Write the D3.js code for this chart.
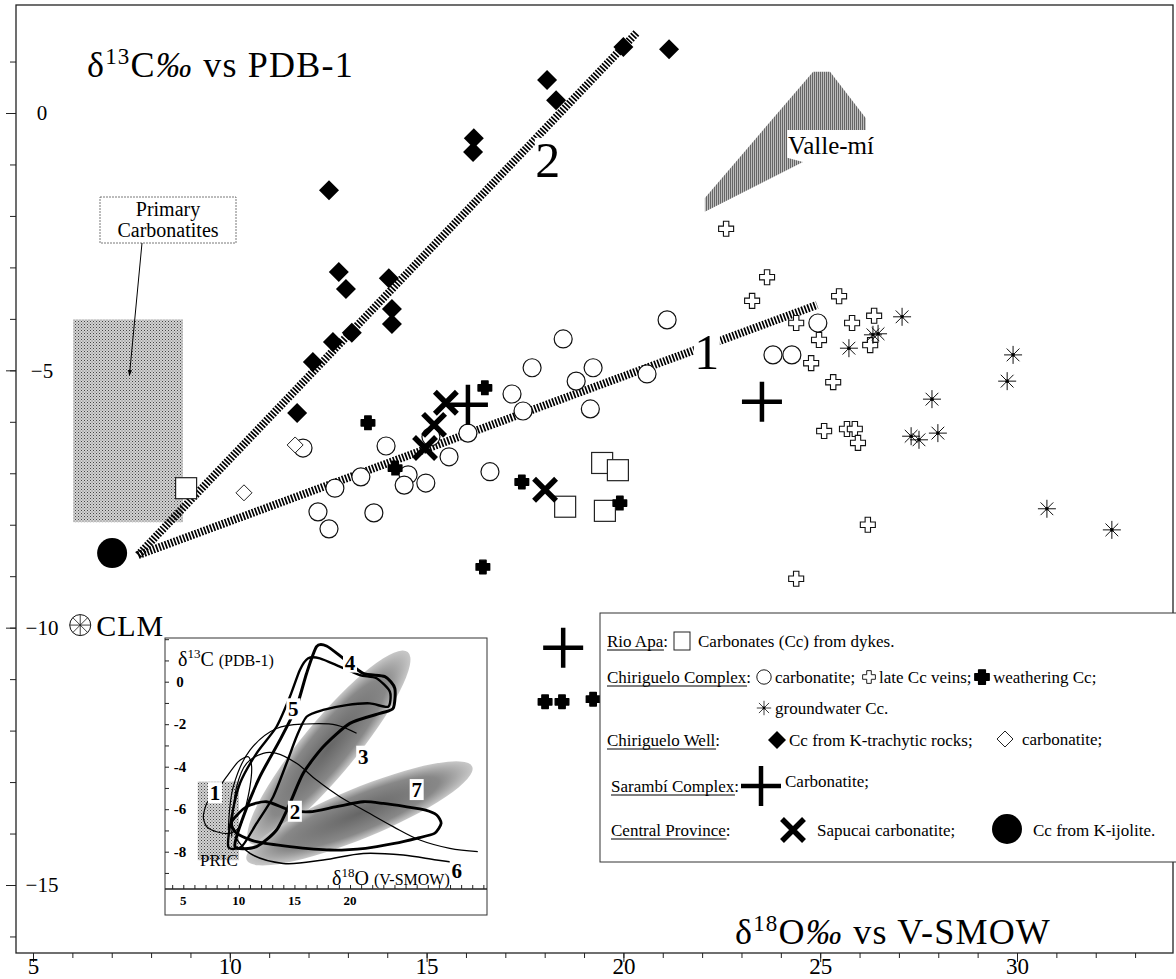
<!DOCTYPE html>
<html>
<head>
<meta charset="utf-8">
<script src="https://cdn.jsdelivr.net/npm/d3@7"></script>
<style>
  body { margin: 0; background: #fff; }
  svg { display: block; }
  text { font-family: "Liberation Serif", "Times New Roman", serif; fill: #000; }
</style>
</head>
<body>
<svg id="chart" width="1176" height="979"></svg>
<script>
// ---- data: [d18O V-SMOW, d13C PDB] ----
const trachyticCc = [[20.0,1.28],[21.16,1.24],[18.06,0.64],[18.29,0.25],[16.2,-0.49],[16.18,-0.76],
  [12.52,-1.5],[12.77,-3.09],[12.95,-3.42],[14.04,-3.21],[14.12,-3.81],[14.12,-4.1],[13.1,-4.27],
  [12.62,-4.45],[12.11,-4.84],[11.71,-5.83]];
const wellCarbonatite = [[11.66,-6.45],[10.36,-7.38]];
const rioApa = [[8.89,-7.29],[19.46,-6.8],[19.86,-6.94],[18.52,-7.65],[19.53,-7.73]];
const chiriCarbonatite = [[11.86,-6.51],[13.97,-6.47],[15.11,-6.29],[16.05,-6.22],[15.57,-6.68],
  [14.53,-7.03],[14.43,-7.23],[14.98,-7.19],[13.33,-7.07],[12.67,-7.29],[12.24,-7.75],[12.52,-8.08],
  [13.66,-7.77],[16.61,-6.97],[17.17,-5.46],[17.45,-5.79],[17.68,-4.95],[18.47,-4.39],[19.23,-4.95],
  [18.8,-5.21],[19.16,-5.75],[20.6,-5.07],[21.11,-4.02],[24.94,-4.08],[23.8,-4.7],[24.28,-4.7]];
const lateVeins = [[22.61,-2.25],[23.65,-3.19],[23.27,-3.65],[25.48,-3.56],[24.39,-4.08],[25.81,-4.08],
  [26.37,-3.94],[24.97,-4.41],[26.27,-4.51],[24.77,-4.86],[25.33,-5.23],[25.1,-6.18],[25.68,-6.14],
  [25.88,-6.14],[25.96,-6.41],[26.21,-8.0],[24.39,-9.05]];
const weathering = [[13.51,-6.02],[14.2,-6.9],[16.48,-5.34],[16.43,-8.82],[17.42,-7.17],[19.91,-7.58],
  [18.01,-11.44],[18.44,-11.44],[19.23,-11.39]];
const groundwater = [[27.08,-3.96],[25.73,-4.57],[26.34,-4.31],[26.47,-4.29],[29.9,-4.7],[29.75,-5.21],
  [27.84,-5.56],[27.31,-6.28],[27.51,-6.35],[27.99,-6.22],[30.76,-7.69],[32.41,-8.1]];
const sarambi = [[16.05,-5.67],[23.52,-5.61],[18.47,-10.39]];
const sapucai = [[15.49,-5.63],[15.19,-6.06],[14.96,-6.51],[18.01,-7.32]];
const kIjolite = [[7.01,-8.55]];
const clm = [[6.2,-9.95]];

const trendLines = [
  {name: '1', from: [7.67,-8.59], to: [24.92,-3.73], label: [22.12,-4.64]},
  {name: '2', from: [7.67,-8.59], to: [20.35,1.57], label: [18.08,-0.91]}
];
const primaryBox = {x0: 6.02, x1: 8.81, y0: -4.01, y1: -7.95};
const valleMi = [[24.82,0.8],[25.25,0.8],[26.16,-0.1],[26.16,-0.33],[24.16,-0.33],[24.16,-0.87],
  [24.56,-0.95],[22.07,-1.92],[22.07,-1.65]];

const xTicks = [5,10,15,20,25,30];
const yTicks = [0,-5,-10,-15];

// inset (literature fields)
const insetXTicks = [5,10,15,20];
const insetYTicks = [0,-2,-4,-6,-8];
const pricBox = {x0: 6.3, x1: 10.0, y0: -4.7, y1: -8.4};
const fieldA = {from: [11.0,-7.59], to: [25.2,1.4]};
const fieldB = {from: [10.7,-8.39], to: [31.0,-4.0]};
const curve1 = [[7.85,-5.25],[8.9,-4.47],[9.95,-3.76],[10.85,-3.53],[11.15,-4.0],[11.0,-4.94],[10.55,-6.04],
  [10.1,-6.82],[9.2,-7.14],[8.0,-7.06],[7.1,-6.82],[6.8,-6.35],[7.1,-5.73]];
const curve2 = [[9.35,-6.59],[10.7,-5.88],[12.49,-5.65],[14.59,-6.04],[16.39,-6.12],[18.79,-5.88],
  [21.19,-5.65],[23.0,-5.73],[25.0,-5.88],[26.8,-6.04],[27.8,-6.27],[28.2,-6.67],[27.6,-7.14],
  [26.0,-7.37],[24.0,-7.61],[21.4,-7.84],[18.19,-7.92],[14.59,-7.76],[11.59,-7.53],[9.8,-7.14]];
const curve3a = [[9.05,-6.98],[9.5,-4.94],[11.0,-3.22],[13.39,-2.2],[16.09,-1.99],[18.79,-2.04],[20.59,-2.43]];
const curve3b = [[9.35,-7.29],[9.8,-4.94],[10.7,-3.84],[12.19,-3.37],[13.39,-3.37],[15.19,-3.84],
  [16.99,-4.63],[19.09,-5.41],[21.49,-6.12],[23.88,-6.82],[26.28,-7.45],[28.98,-7.84],[31.5,-8.0]];
const curve4 = [[9.65,-7.76],[10.4,-6.35],[11.89,-4.47],[13.69,-2.75],[15.19,-1.18],[16.09,0.39],
  [16.99,1.65],[17.89,1.68],[19.39,1.1],[21.19,0.39],[23.14,0.24],[24.03,-0.31],[23.88,-1.25],
  [22.69,-1.49],[19.99,-1.96],[17.59,-3.06],[15.79,-4.31],[14.59,-5.73],[13.39,-6.98],[11.59,-7.76]];
const curve5 = [[9.05,-7.76],[9.35,-6.35],[10.1,-4.78],[11.59,-3.37],[13.39,-2.12],[14.59,-0.71],
  [15.49,0.55],[16.24,1.1],[17.29,1.1],[19.09,0.71],[20.89,0.31],[22.39,0.16],[23.59,-0.47],
  [23.44,-1.18],[21.79,-1.02],[19.69,-1.1],[17.59,-1.33],[16.09,-1.65],[15.19,-2.59],[14.29,-3.84],
  [13.09,-5.41],[11.59,-6.67],[10.25,-7.76]];
const curve6 = [[9.65,-7.29],[11.0,-8.08],[13.99,-8.55],[17.59,-8.39],[21.19,-8.08],[24.78,-8.16],
  [27.78,-8.39],[30.0,-8.55]];
const insetLabels = [
  {t: '1', p: [7.85,-5.25]}, {t: '2', p: [15.04,-6.12]}, {t: '3', p: [21.19,-3.53]},
  {t: '4', p: [20.0,0.9]}, {t: '5', p: [14.9,-1.3]}, {t: '6', p: [29.6,-8.9]}, {t: '7', p: [26.0,-5.1]}
];

// ---- setup ----
const W = 1176, H = 979;
const svg = d3.select('#chart');
svg.append('rect').attr('width', W).attr('height', H).attr('fill', '#fff');

const frame = {left: 16, right: 1173, top: 5, bottom: 953};
const x = d3.scaleLinear().domain([5, 30]).range([33, 1017]);
const y = d3.scaleLinear().domain([0, -15]).range([113, 885]);

const defs = svg.append('defs');
const dots = defs.append('pattern').attr('id', 'dots').attr('width', 3).attr('height', 3)
  .attr('patternUnits', 'userSpaceOnUse');
dots.append('rect').attr('width', 3).attr('height', 3).attr('fill', '#d2d2d2');
dots.append('rect').attr('width', 1).attr('height', 1).attr('fill', '#444');
dots.append('rect').attr('x', 1.5).attr('y', 1.5).attr('width', 1).attr('height', 1).attr('fill', '#707070');

const vlines = defs.append('pattern').attr('id', 'vlines').attr('width', 2).attr('height', 2)
  .attr('patternUnits', 'userSpaceOnUse');
vlines.append('rect').attr('width', 2).attr('height', 2).attr('fill', '#bdbdbd');
vlines.append('rect').attr('width', 1).attr('height', 2).attr('fill', '#666');

const grad = defs.append('radialGradient').attr('id', 'fieldGrad');
grad.append('stop').attr('offset', '0%').attr('stop-color', '#666');
grad.append('stop').attr('offset', '70%').attr('stop-color', '#888');
grad.append('stop').attr('offset', '100%').attr('stop-color', '#c8c8c8');

defs.append('marker').attr('id', 'arrow').attr('viewBox', '0 0 10 10').attr('refX', 9).attr('refY', 5)
  .attr('markerWidth', 6).attr('markerHeight', 9).attr('orient', 'auto-start-reverse')
  .append('path').attr('d', 'M0,1.5L10,5L0,8.5Z').attr('fill', '#000');

// ---- frame and axes ----
const axisColor = '#222';
svg.append('rect').attr('x', frame.left).attr('y', frame.top)
  .attr('width', frame.right - frame.left).attr('height', frame.bottom - frame.top)
  .attr('fill', 'none').attr('stroke', axisColor).attr('stroke-width', 1.3);

const gxMinor = svg.append('g').attr('transform', `translate(0,${frame.bottom})`)
  .call(d3.axisBottom(x).tickValues(d3.range(5, 34)).tickSize(5).tickFormat(''));
const gxMajor = svg.append('g').attr('transform', `translate(0,${frame.bottom})`)
  .call(d3.axisBottom(x).tickValues(xTicks).tickSize(9));
const gyMinor = svg.append('g').attr('transform', `translate(${frame.left},0)`)
  .call(d3.axisLeft(y).tickValues(d3.range(-16, 2)).tickSize(6).tickFormat(''));
const gyMajor = svg.append('g').attr('transform', `translate(${frame.left},0)`)
  .call(d3.axisLeft(y).tickValues(yTicks).tickSize(10));
[gxMinor, gxMajor, gyMinor, gyMajor].forEach(g => {
  g.select('.domain').remove();
  g.selectAll('line').attr('stroke', axisColor);
});
gxMajor.selectAll('text').attr('y', 21).attr('dy', 0).attr('font-family', 'Liberation Serif')
  .attr('font-size', 23).attr('fill', '#000');
gyMajor.selectAll('text').attr('x', 26).attr('text-anchor', 'middle')
  .attr('font-family', 'Liberation Serif').attr('font-size', 21).attr('fill', '#000');

// axis titles
function axisTitle(x0, yb, sup, letter, rest) {
  const t = svg.append('text').attr('x', x0).attr('y', yb).attr('font-size', 36).attr('letter-spacing', 1.2);
  t.append('tspan').text('δ');
  t.append('tspan').attr('font-size', 23).attr('dy', -13).text(sup);
  t.append('tspan').attr('dy', 13).text(letter);
  t.append('tspan').attr('font-style', 'italic').text('‰');
  t.append('tspan').text(rest);
}
axisTitle(87, 77, '13', 'C', ' vs PDB-1');
axisTitle(735, 944, '18', 'O', ' vs V-SMOW');

// ---- fields ----
svg.append('rect')
  .attr('x', x(primaryBox.x0)).attr('y', y(primaryBox.y0))
  .attr('width', x(primaryBox.x1) - x(primaryBox.x0)).attr('height', y(primaryBox.y1) - y(primaryBox.y0))
  .attr('fill', 'url(#dots)');

svg.append('path')
  .attr('d', d3.line().x(d => x(d[0])).y(d => y(d[1]))(valleMi) + 'Z')
  .attr('fill', 'url(#vlines)');
svg.append('text').attr('x', x(24.18)).attr('y', y(-0.8)).attr('font-size', 25).text('Valle-mí');

// primary carbonatites label box + arrow
const pc = svg.append('g');
pc.append('rect').attr('x', 100).attr('y', 197).attr('width', 136).attr('height', 46)
  .attr('fill', '#fff').attr('stroke', '#555').attr('stroke-width', 0.8).attr('stroke-dasharray', '2,1');
pc.append('text').attr('x', 168).attr('y', 216).attr('text-anchor', 'middle').attr('font-size', 20).text('Primary');
pc.append('text').attr('x', 168).attr('y', 237).attr('text-anchor', 'middle').attr('font-size', 20).text('Carbonatites');
pc.append('line').attr('x1', 142).attr('y1', 243).attr('x2', x(7.45)).attr('y2', y(-5.1))
  .attr('stroke', '#000').attr('stroke-width', 1).attr('marker-end', 'url(#arrow)');

// ---- trend lines ----
const tl = svg.append('g');
tl.selectAll('line').data(trendLines).join('line')
  .attr('x1', d => x(d.from[0])).attr('y1', d => y(d.from[1]))
  .attr('x2', d => x(d.to[0])).attr('y2', d => y(d.to[1]))
  .attr('stroke', '#000').attr('stroke-width', 8).attr('stroke-dasharray', '1.7,1.5');
tl.selectAll('rect').data(trendLines).join('rect')
  .attr('x', d => x(d.label[0]) - 13).attr('y', d => y(d.label[1]) - 22)
  .attr('width', 26).attr('height', 44).attr('fill', '#fff');
tl.selectAll('text').data(trendLines).join('text')
  .attr('x', d => x(d.label[0])).attr('y', d => y(d.label[1]) + 17)
  .attr('text-anchor', 'middle').attr('font-size', 50).text(d => d.name);

// ---- marker shapes ----
const crossPath = (a, w) => `M${-w},${-a}H${w}V${-w}H${a}V${w}H${w}V${a}H${-w}V${w}H${-a}V${-w}H${-w}Z`;
const diamondPath = r => `M0,${-r}L${r},0L0,${r}L${-r},0Z`;
const asteriskPath = r => {
  const s = r * Math.SQRT1_2;
  return `M0,${-r}V${r}M${-r},0H${r}M${-s},${-s}L${s},${s}M${-s},${s}L${s},${-s}`;
};
const xPath = r => `M${-r},${-r}L${r},${r}M${-r},${r}L${r},${-r}`;
const plusPath = r => `M${-r},0H${r}M0,${-r}V${r}`;

const marks = {
  square: g => g.append('rect').attr('x', -10.5).attr('y', -10.5).attr('width', 21).attr('height', 21)
    .attr('fill', '#fff').attr('stroke', '#222').attr('stroke-width', 1.2),
  circle: g => g.append('circle').attr('r', 9).attr('fill', '#fff').attr('stroke', '#111').attr('stroke-width', 1.2),
  openCross: g => g.append('path').attr('d', crossPath(7.5, 2.7)).attr('fill', '#fff')
    .attr('stroke', '#111').attr('stroke-width', 1.1),
  blackCross: g => g.append('path').attr('d', crossPath(6.8, 3.2)).attr('fill', '#000')
    .attr('stroke', '#000').attr('stroke-width', 1.4).attr('stroke-linejoin', 'round'),
  asterisk: g => {
    g.append('path').attr('d', asteriskPath(9)).attr('stroke', '#111').attr('stroke-width', 1).attr('fill', 'none');
    g.append('circle').attr('r', 1.8).attr('fill', '#000');
  },
  blackDiamond: g => g.append('path').attr('d', diamondPath(10)).attr('fill', '#000'),
  openDiamond: g => g.append('path').attr('d', diamondPath(8)).attr('fill', '#fff')
    .attr('stroke', '#222').attr('stroke-width', 1),
  sarambi: g => g.append('path').attr('d', plusPath(20)).attr('stroke', '#000').attr('stroke-width', 4.5),
  sapucai: g => g.append('path').attr('d', xPath(11)).attr('stroke', '#000').attr('stroke-width', 5.5),
  kIjolite: g => g.append('circle').attr('r', 15).attr('fill', '#000'),
  clm: g => {
    g.append('circle').attr('r', 10.5).attr('fill', '#fff').attr('stroke', '#111').attr('stroke-width', 1);
    g.append('path').attr('d', asteriskPath(10.5)).attr('stroke', '#111').attr('stroke-width', 0.8);
  }
};

function drawSeries(data, kind) {
  svg.append('g').selectAll('g').data(data).join('g')
    .attr('transform', d => `translate(${x(d[0])},${y(d[1])})`)
    .each(function () { marks[kind](d3.select(this)); });
}

drawSeries(rioApa, 'square');
drawSeries(chiriCarbonatite, 'circle');
drawSeries(wellCarbonatite, 'openDiamond');
drawSeries(lateVeins, 'openCross');
drawSeries(groundwater, 'asterisk');
drawSeries(trachyticCc, 'blackDiamond');
drawSeries(weathering, 'blackCross');
drawSeries(sarambi, 'sarambi');
drawSeries(sapucai, 'sapucai');
drawSeries(kIjolite, 'kIjolite');
drawSeries(clm, 'clm');
svg.append('text').attr('x', x(clm[0][0]) + 16).attr('y', y(clm[0][1]) + 11)
  .attr('font-size', 30).attr('letter-spacing', 1).text('CLM');

// ---- legend ----
const lg = svg.append('g');
lg.append('rect').attr('x', 600).attr('y', 613).attr('width', 590).attr('height', 249)
  .attr('fill', '#fff').attr('stroke', '#333').attr('stroke-width', 1);
const lfs = 17;
function head(txt, x0, yb) {
  const t = lg.append('text').attr('x', x0).attr('y', yb).attr('font-size', lfs).text(txt);
  const w = t.node().getComputedTextLength();
  lg.append('line').attr('x1', x0).attr('x2', x0 + w - 4).attr('y1', yb + 3).attr('y2', yb + 3)
    .attr('stroke', '#000').attr('stroke-width', 1);
}
function ltext(txt, x0, yb) { lg.append('text').attr('x', x0).attr('y', yb).attr('font-size', lfs).text(txt); }
function lmark(kind, cx, cy, scale) {
  const g = lg.append('g').attr('transform', `translate(${cx},${cy}) scale(${scale || 1})`);
  marks[kind](g);
}
head('Rio Apa:', 607, 647);
lg.append('rect').attr('x', 674).attr('y', 632).attr('width', 16).attr('height', 18)
  .attr('fill', '#fff').attr('stroke', '#222');
ltext('Carbonates (Cc) from dykes.', 698, 647);
head('Chiriguelo Complex:', 607, 683);
lmark('circle', 764, 677, 0.8);
ltext('carbonatite;', 775, 683);
lmark('openCross', 869, 677, 0.85);
ltext('late Cc veins;', 879, 683);
lmark('blackCross', 982, 677, 1.05);
ltext('weathering Cc;', 993, 683);
lmark('asterisk', 764, 708, 0.8);
ltext('groundwater Cc.', 775, 714);
head('Chiriguelo Well:', 607, 746);
lmark('blackDiamond', 777, 740, 0.9);
ltext('Cc from K-trachytic rocks;', 789, 746);
lmark('openDiamond', 1005, 739, 1);
ltext('carbonatite;', 1022, 745);
head('Sarambí Complex:', 611, 792);
lmark('sarambi', 761, 786, 1);
ltext('Carbonatite;', 785, 787);
head('Central Province:', 611, 836);
lmark('sapucai', 793, 830, 1);
ltext('Sapucai carbonatite;', 817, 836);
lmark('kIjolite', 1007, 829, 1);
ltext('Cc from K-ijolite.', 1033, 836);

// ---- inset ----
const inset = {left: 165, top: 638, right: 487, bottom: 915, axisY: 889};
const ix = d3.scaleLinear().domain([5, 20]).range([183.3, 350]);
const iy = d3.scaleLinear().domain([0, -8]).range([681.7, 851.7]);
const ins = svg.append('g');
ins.append('rect').attr('x', inset.left).attr('y', inset.top)
  .attr('width', inset.right - inset.left).attr('height', inset.bottom - inset.top)
  .attr('fill', '#fff').attr('stroke', '#333').attr('stroke-width', 1);
const clip = defs.append('clipPath').attr('id', 'insetClip');
clip.append('rect').attr('x', inset.left).attr('y', inset.top)
  .attr('width', inset.right - inset.left).attr('height', inset.axisY - inset.top);
const ip = ins.append('g').attr('clip-path', 'url(#insetClip)');

ip.append('rect').attr('x', ix(pricBox.x0)).attr('y', iy(pricBox.y0))
  .attr('width', ix(pricBox.x1) - ix(pricBox.x0)).attr('height', iy(pricBox.y1) - iy(pricBox.y0))
  .attr('fill', 'url(#dots)');

function drawField(f, ry) {
  const x1 = ix(f.from[0]), y1 = iy(f.from[1]), x2 = ix(f.to[0]), y2 = iy(f.to[1]);
  const cx = (x1 + x2) / 2, cy = (y1 + y2) / 2;
  const rx = Math.hypot(x2 - x1, y2 - y1) / 2;
  const ang = Math.atan2(y2 - y1, x2 - x1) * 180 / Math.PI;
  ip.append('ellipse').attr('cx', cx).attr('cy', cy).attr('rx', rx).attr('ry', ry)
    .attr('transform', `rotate(${ang},${cx},${cy})`).attr('fill', 'url(#fieldGrad)');
}
drawField(fieldA, 27);
drawField(fieldB, 25);

const closedLine = d3.line().x(d => ix(d[0])).y(d => iy(d[1])).curve(d3.curveCardinalClosed.tension(0.3));
const openLine = d3.line().x(d => ix(d[0])).y(d => iy(d[1])).curve(d3.curveCatmullRom);
[[curve1, 1.2], [curve2, 2.8], [curve4, 3], [curve5, 2.4]].forEach(([c, w]) => {
  ip.append('path').attr('d', closedLine(c)).attr('fill', 'none').attr('stroke', '#000').attr('stroke-width', w);
});
[[curve3a, 1.2], [curve3b, 1.2], [curve6, 1.5]].forEach(([c, w]) => {
  ip.append('path').attr('d', openLine(c)).attr('fill', 'none').attr('stroke', '#000').attr('stroke-width', w);
});

ip.selectAll('g.lab').data(insetLabels).join('g').attr('class', 'lab')
  .attr('transform', d => `translate(${ix(d.p[0])},${iy(d.p[1])})`)
  .each(function (d) {
    const g = d3.select(this);
    g.append('rect').attr('x', -7).attr('y', -11).attr('width', 14).attr('height', 21).attr('fill', '#fff');
    g.append('text').attr('text-anchor', 'middle').attr('y', 7).attr('font-size', 21)
      .attr('font-weight', 'bold').text(d.t);
  });

// inset axes
const igx = ins.append('g').attr('transform', `translate(0,${inset.axisY})`)
  .call(d3.axisTop(ix).tickValues(d3.range(4, 33)).tickSize(4).tickFormat(''));
igx.select('.domain').attr('d', `M${inset.left},0H${inset.right}`).attr('stroke', '#222').attr('stroke-width', 1.3);
igx.selectAll('line').attr('stroke', '#222');
ins.append('g').attr('transform', `translate(0,${inset.axisY})`).selectAll('text').data(insetXTicks).join('text')
  .attr('x', d => ix(d)).attr('y', 16).attr('text-anchor', 'middle').attr('font-size', 13)
  .attr('font-weight', 'bold').text(d => d);
const igy = ins.append('g').attr('transform', `translate(${inset.left},0)`)
  .call(d3.axisRight(iy).tickValues(d3.range(-9, 3)).tickSize(4).tickFormat(''));
igy.select('.domain').remove();
igy.selectAll('line').attr('stroke', '#222');
ins.selectAll('text.iyl').data(insetYTicks).join('text').attr('class', 'iyl')
  .attr('x', inset.left + 15).attr('y', d => iy(d) + 5).attr('text-anchor', 'middle')
  .attr('font-size', 15).attr('font-weight', 'bold').text(d => d);

function insetTitle(x0, yb, sup, letter, rest) {
  const t = ins.append('text').attr('x', x0).attr('y', yb).attr('font-size', 20);
  t.append('tspan').text('δ');
  t.append('tspan').attr('font-size', 13).attr('dy', -8).text(sup);
  t.append('tspan').attr('dy', 8).text(letter + ' ');
  t.append('tspan').attr('font-size', 16).text(rest);
}
insetTitle(178, 666, '13', 'C', '(PDB-1)');
ins.append('text').attr('x', 200).attr('y', 866).attr('font-size', 17).text('PRIC');
insetTitle(332, 885, '18', 'O', '(V-SMOW)');
</script>
</body>
</html>
